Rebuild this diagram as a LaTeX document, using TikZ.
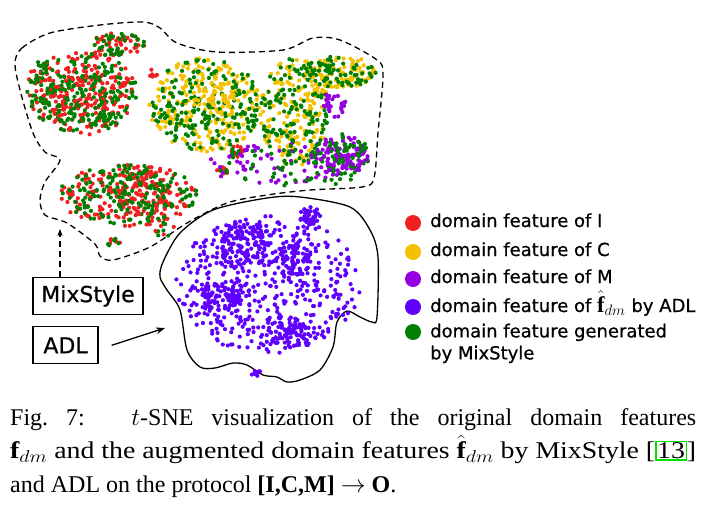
\documentclass[tikz,border=0pt]{standalone}
\usepackage{amsmath}
\usepackage{amssymb}
\usepackage{xcolor}
\usepackage{graphicx}
\usepackage{fontspec}
\setmainfont{Liberation Serif}
\setsansfont[FakeBold=0.6]{DejaVu Sans}
\usepackage{tikz}
\usetikzlibrary{positioning,arrows.meta}
\definecolor{domI}{RGB}{240,32,32}
\definecolor{domC}{RGB}{245,192,0}
\definecolor{domM}{RGB}{150,0,225}
\definecolor{domADL}{RGB}{95,0,255}
\definecolor{domMix}{RGB}{0,128,0}
\definecolor{citeGreen}{RGB}{0,225,0}
\tikzset{
    legdot/.style={circle, fill=#1, minimum size=16pt, inner sep=0pt},
    legtext/.style={font=\sffamily\fontsize{18}{22}\selectfont, anchor=base west, inner sep=0pt, align=left},
    methodbox/.style={draw, line width=1.3pt, font=\sffamily\fontsize{22}{24}\selectfont, inner sep=0pt, minimum height=37pt},
    regionline/.style={line width=1.3pt, smooth cycle, tension=0.5}
}
% cloud of t-SNE points in an ellipse: colour, centre x, centre y, radius x, radius y, count
\newcommand{\dotcloud}[6]{%
    \foreach \k in {1,...,#6}{
        \pgfmathsetmacro{\rr}{sqrt(rnd)}
        \pgfmathsetmacro{\aa}{360*rnd}
        \pgfmathsetmacro{\dx}{#2+#4*\rr*cos(\aa)}
        \pgfmathsetmacro{\dy}{#3+#5*\rr*sin(\aa)}
        \fill[#1] (\dx,\dy) circle[radius=2.1pt];
    }}
\newcommand{\citebox}[1]{{\setlength{\fboxsep}{0.5pt}\setlength{\fboxrule}{1.2pt}\fcolorbox{citeGreen}{white}{#1}}}
% caption lines, each brought to the full width
\newcommand{\capfirst}{Fig.~7:\hspace{0.6em} $t$-SNE visualization of the original domain features}
\newcommand{\capsecond}{$\mathbf{f}_{dm}$ and the augmented domain features $\hat{\mathbf{f}}_{dm}$ by MixStyle [\citebox{13}]}

\begin{document}
\begin{tikzpicture}[x=1pt, y=-1pt]
    \useasboundingbox (0,0) rectangle (709,506);
    \pgfmathsetseed{7}

    % --- REGIONS ---
    \draw[regionline, dashed, dash pattern=on 6pt off 4pt] plot coordinates {
        (15,63) (22,48) (50,33) (100,25) (143,22) (160,28) (177,43) (217,52)
        (283,50) (313,38) (340,40) (377,60) (383,75) (378,133) (374,178)
        (362,187) (310,190) (267,195) (227,203) (187,223) (150,247) (113,260)
        (100,256) (95,244) (67,223) (45,215) (40,200) (45,182) (60,160)
        (45,152) (33,133) (20,90)};
    \draw[regionline] plot coordinates {
        (160,277) (163,262) (180,233) (213,210) (267,198) (300,197) (350,207)
        (370,230) (378,257) (377,317) (372,322) (360,317) (347,311) (337,322)
        (333,347) (320,370) (300,380) (287,382) (277,377) (263,375) (247,365)
        (233,363) (215,368) (200,367) (187,350) (180,310) (167,290)};

    % --- POINTS ---
    % I and MixStyle, top left
    \dotcloud{domI}{82}{93}{55}{42}{200}
    \dotcloud{domMix}{82}{93}{55}{42}{180}
    \dotcloud{domI}{80}{100}{30}{24}{45}
    \dotcloud{domMix}{80}{100}{30}{24}{35}
    \dotcloud{domI}{118}{45}{27}{12}{40}
    \dotcloud{domMix}{118}{45}{27}{12}{35}
    \dotcloud{domI}{40}{80}{12}{20}{18}
    \dotcloud{domMix}{40}{80}{12}{20}{18}
    \dotcloud{domI}{153}{73}{6}{4}{6}
    % I and MixStyle, bottom left
    \dotcloud{domI}{128}{195}{70}{31}{180}
    \dotcloud{domMix}{128}{195}{70}{31}{150}
    \dotcloud{domI}{143}{195}{27}{25}{60}
    \dotcloud{domMix}{143}{195}{27}{25}{45}
    \dotcloud{domI}{115}{243}{8}{5}{6}
    \dotcloud{domMix}{115}{243}{8}{5}{5}
    \dotcloud{domMix}{165}{230}{10}{8}{8}
    \dotcloud{domI}{165}{230}{10}{8}{4}
    \dotcloud{domI}{237}{151}{7}{6}{14}
    \dotcloud{domMix}{237}{151}{7}{6}{5}
    \dotcloud{domI}{222}{171}{9}{4}{8}
    \dotcloud{domMix}{222}{171}{9}{4}{3}
    % C and MixStyle
    \dotcloud{domC}{205}{105}{56}{47}{230}
    \dotcloud{domMix}{205}{105}{56}{47}{200}
    \dotcloud{domC}{215}{95}{25}{20}{40}
    \dotcloud{domC}{295}{112}{35}{54}{170}
    \dotcloud{domMix}{295}{112}{35}{54}{130}
    \dotcloud{domC}{340}{72}{36}{16}{90}
    \dotcloud{domMix}{340}{72}{36}{16}{70}
    % M
    \dotcloud{domM}{340}{155}{30}{21}{100}
    \dotcloud{domMix}{340}{155}{30}{21}{55}
    \dotcloud{domM}{334}{105}{13}{13}{30}
    \dotcloud{domM}{285}{165}{82}{22}{80}
    \dotcloud{domMix}{300}{165}{72}{22}{45}
    % ADL
    \dotcloud{domADL}{268}{285}{92}{70}{480}
    \dotcloud{domADL}{245}{247}{25}{24}{100}
    \dotcloud{domADL}{293}{258}{18}{18}{70}
    \dotcloud{domADL}{223}{300}{22}{18}{70}
    \dotcloud{domADL}{287}{332}{19}{16}{70}
    \dotcloud{domADL}{310}{216}{11}{9}{40}
    \dotcloud{domADL}{256}{373}{6}{3}{8}

    % --- BOXES AND ARROWS ---
    \node[methodbox, minimum width=110pt] (mix) at (88,296) {MixStyle};
    \node[methodbox, minimum width=65pt, below=11pt of mix.south west, anchor=north west] (adl) {ADL};
    \coordinate (mixtip) at (60,229);
    \coordinate (adltip) at (165,328);
    \draw[dashed, line width=1.3pt, dash pattern=on 6pt off 4pt, -{Stealth[length=7pt]}] ([xshift=-28pt]mix.north) -- (mixtip);
    \draw[line width=1.3pt, -{Stealth[length=9pt]}] ([xshift=13pt]adl.east) -- (adltip);

    % --- LEGEND ---
    \node[legdot=domI] (dI) at (413,223) {};
    \node[legdot=domC] (dC) at (413,252) {};
    \node[legdot=domM] (dM) at (413,279) {};
    \node[legdot=domADL] (dA) at (413,307) {};
    \node[legdot=domMix] (dX) at (413,332) {};
    \node[legtext] (tI) at (430,227) {domain feature of I};
    \node[legtext] (tC) at (430,256) {domain feature of C};
    \node[legtext] (tM) at (430,283) {domain feature of M};
    \node[legtext] (tA) at (430,312) {domain feature of \scalebox{1.25}{$\hat{\mathbf{f}}_{dm}$} by ADL};
    \node[legtext, anchor=north west] (tX) at (430,323.5) {domain feature generated\\by MixStyle};

    % --- CAPTION ---
    \node[anchor=north west, inner sep=0pt, align=left,
          font=\fontsize{24}{33.5}\selectfont] (cap) at (10,408)
        {\makebox[686pt][s]{\capfirst}\\
         \resizebox{686pt}{\height}{\capsecond}\\
         and ADL on the protocol \textbf{[I,C,M]} $\rightarrow$ \textbf{O}.};
\end{tikzpicture}
\end{document}
